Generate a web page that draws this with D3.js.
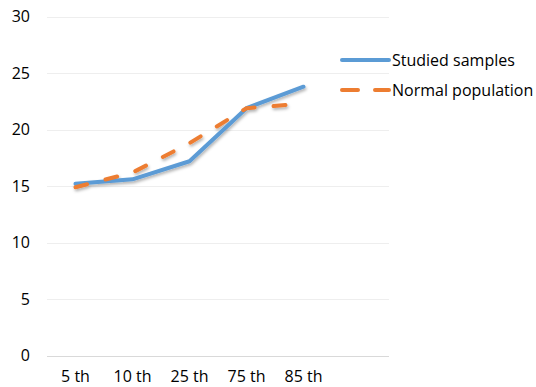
<!DOCTYPE html>
<html>
<head>
<meta charset="utf-8">
<script src="https://cdn.jsdelivr.net/npm/d3@7"></script>
<style>
  html, body { margin: 0; padding: 0; background: #fff; }
  svg { display: block; font-family: "Open Sans", sans-serif; }
</style>
</head>
<body>
<svg id="chart" width="536" height="387"></svg>
<script>
// Percentile categories along the x axis
const categories = ["5 th", "10 th", "25 th", "75 th", "85 th"];
// Series values per percentile
const studiedSamples = [15.2, 15.6, 17.2, 21.9, 23.8];
const normalPopulation = [14.9, 16.2, 18.8, 21.9, 22.3];
// Y axis ticks
const yTicks = [0, 5, 10, 15, 20, 25, 30];

const seriesNames = ["Studied samples", "Normal population"];
const series = [
  { name: seriesNames[0], values: studiedSamples, color: "#5B9BD5", dash: null },
  { name: seriesNames[1], values: normalPopulation, color: "#ED7D31", dash: "12,19" }
];

const svg = d3.select("#chart");
const plotLeft = 47, plotRight = 389, plotTop = 16.7, plotBottom = 355.5;
// six equal slots across the plot; the categories fill the first five
const slot = (plotRight - plotLeft) / 6;

const x = d3.scaleBand().domain(categories).range([plotLeft, plotLeft + slot * categories.length]);
const y = d3.scaleLinear().domain([0, 30]).range([plotBottom, plotTop]);

// soft shadow under the lines
const defs = svg.append("defs");
defs.append("filter").attr("id", "shadow").attr("x", "-10%").attr("y", "-10%")
  .attr("width", "120%").attr("height", "140%")
  .append("feDropShadow").attr("dx", 1).attr("dy", 2).attr("stdDeviation", 1.5)
  .attr("flood-color", "#000").attr("flood-opacity", 0.3);

// gridlines
svg.append("g").selectAll("line").data(yTicks).join("line")
  .attr("x1", plotLeft).attr("x2", plotRight)
  .attr("y1", d => Math.round(y(d)) + 0.5).attr("y2", d => Math.round(y(d)) + 0.5)
  .attr("stroke", d => d === 0 ? "#D9D9D9" : "#EEEEEE")
  .attr("stroke-width", 1);

// y axis labels
const yAxis = d3.axisLeft(y).tickValues(yTicks).tickSize(0).tickPadding(0);
const gy = svg.append("g").attr("transform", `translate(${plotLeft - 17},0)`).call(yAxis);
gy.select(".domain").remove();
gy.selectAll("text").attr("font-size", 16).attr("fill", "#000")
  .attr("font-family", "'Open Sans', sans-serif");

// x axis labels
const xAxis = d3.axisBottom(x).tickSize(0).tickPadding(0);
const gx = svg.append("g").attr("transform", `translate(0,${plotBottom + 15})`).call(xAxis);
gx.select(".domain").remove();
gx.selectAll("text").attr("font-size", 16).attr("fill", "#000")
  .attr("font-family", "'Open Sans', sans-serif");

// lines
const line = d3.line()
  .x((d, i) => x(categories[i]) + x.bandwidth() / 2)
  .y(d => y(d));

svg.append("g").attr("filter", "url(#shadow)")
  .selectAll("path").data(series).join("path")
  .attr("d", d => line(d.values))
  .attr("fill", "none")
  .attr("stroke", d => d.color)
  .attr("stroke-width", 4)
  .attr("stroke-linecap", "round")
  .attr("stroke-linejoin", "round")
  .attr("stroke-dasharray", d => d.dash);

// legend
const legend = svg.append("g").attr("transform", "translate(342,60)");
const items = legend.selectAll("g").data(series).join("g")
  .attr("transform", (d, i) => `translate(0,${i * 30})`);
items.append("line")
  .attr("x1", 0).attr("x2", 47).attr("y1", 0).attr("y2", 0)
  .attr("stroke", d => d.color).attr("stroke-width", 4)
  .attr("stroke-linecap", "round")
  .attr("stroke-dasharray", d => d.dash ? "16,17" : null);
items.append("text")
  .attr("x", 50).attr("y", 0).attr("dy", "0.35em")
  .attr("font-size", 16).attr("fill", "#000")
  .text(d => d.name);
</script>
</body>
</html>
